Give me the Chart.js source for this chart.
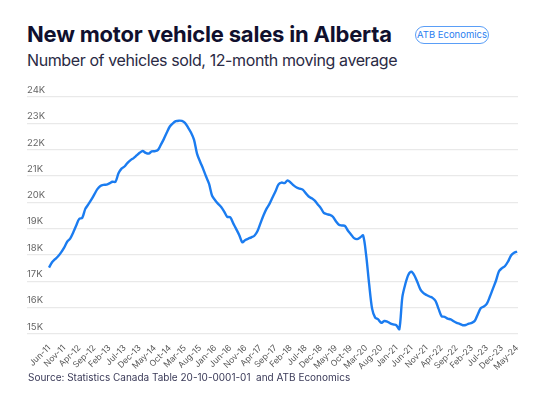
<!DOCTYPE html>
<html lang="en">
<head>
    <meta charset="UTF-8">
    <title>New motor vehicle sales in Alberta</title>
    <script src="https://cdn.jsdelivr.net/npm/chart.js"></script>
    <style>
        body {
            margin: 0;
            width: 555px;
            height: 400px;
            background: #fff;
            font-family: "Inter", "Lato", sans-serif;
            position: relative;
            overflow: hidden;
        }

        .titulo {
            position: absolute;
            left: 27px;
            top: 21px;
            font-size: 22px;
            font-weight: 700;
            color: #10102e;
            letter-spacing: -0.2px;
            white-space: nowrap;
        }

        .subtitulo {
            position: absolute;
            left: 27px;
            top: 50px;
            font-size: 16px;
            color: #2a2a44;
            letter-spacing: -0.4px;
            white-space: nowrap;
        }

        .badge {
            position: absolute;
            left: 415px;
            top: 26px;
            width: 72px;
            height: 16px;
            border: 1.5px solid #5a9ef7;
            border-radius: 10px;
            color: #2a7ef0;
            font-size: 9.5px;
            line-height: 16px;
            text-align: center;
        }

        .fuente {
            position: absolute;
            left: 28px;
            top: 371px;
            font-size: 10px;
            color: #3a3a58;
            white-space: pre;
        }

        #grafico {
            position: absolute;
            left: 0;
            top: 0;
        }
    </style>
</head>
<body>
<div class="titulo">New motor vehicle sales in Alberta</div>
<div class="subtitulo">Number of vehicles sold, 12-month moving average</div>
<div class="badge">ATB Economics</div>
<canvas id="grafico" width="555" height="400"></canvas>
<div class="fuente">Source: Statistics Canada Table 20-10-0001-01  and ATB Economics</div>

<script>
    // Etiquetas del eje x (una cada 5 meses, desde Jun-11)
    const tickLabels = [
        "Jun-11", "Nov-11", "Apr-12", "Sep-12", "Feb-13", "Jul-13", "Dec-13", "May-14",
        "Oct-14", "Mar-15", "Aug-15", "Jan-16", "Jun-16", "Nov-16", "Apr-17", "Sep-17",
        "Feb-18", "Jul-18", "Dec-18", "May-19", "Oct-19", "Mar-20", "Aug-20", "Jan-21",
        "Jun-21", "Nov-21", "Apr-22", "Sep-22", "Feb-23", "Jul-23", "Dec-23", "May-24"
    ];
    const tickStep = 5;

    // Ventas mensuales (miles de vehiculos), Jun-11 a May-24
    const ventas = [
        17.52, 17.72, 17.84, 17.95, 18.10, 18.28, 18.50, 18.62, 18.85, 19.12,
        19.37, 19.41, 19.75, 19.92, 20.10, 20.30, 20.50, 20.62, 20.66, 20.67,
        20.72, 20.78, 20.78, 21.10, 21.28, 21.36, 21.50, 21.60, 21.68, 21.78,
        21.88, 21.95, 21.88, 21.85, 21.93, 21.94, 21.98, 22.18, 22.40, 22.65,
        22.88, 23.00, 23.08, 23.10, 23.09, 23.02, 22.85, 22.65, 22.38, 21.85,
        21.55, 21.28, 20.98, 20.70, 20.25, 20.08, 19.94, 19.82, 19.65, 19.45,
        19.43, 19.20, 18.98, 18.75, 18.48, 18.57, 18.62, 18.67, 18.73, 18.90,
        19.20, 19.50, 19.75, 19.94, 20.18, 20.42, 20.68, 20.75, 20.73, 20.83,
        20.75, 20.64, 20.56, 20.52, 20.48, 20.35, 20.22, 20.15, 20.06, 19.92,
        19.78, 19.60, 19.55, 19.52, 19.45, 19.28, 19.15, 19.12, 19.10, 18.92,
        18.78, 18.64, 18.60, 18.66, 18.74, 18.00, 16.90, 15.95, 15.62, 15.55,
        15.42, 15.49, 15.47, 15.40, 15.36, 15.33, 15.18, 16.40, 16.90, 17.25,
        17.36, 17.22, 16.96, 16.68, 16.55, 16.48, 16.42, 16.37, 16.25, 15.95,
        15.67, 15.65, 15.58, 15.55, 15.48, 15.42, 15.38, 15.33, 15.34, 15.39,
        15.42, 15.50, 15.75, 15.98, 16.04, 16.15, 16.42, 16.72, 17.02, 17.38,
        17.50, 17.58, 17.75, 17.98, 18.08, 18.13
    ];

    const yMin = 15;
    const yMax = 24;

    const puntos = ventas.map((v, i) => ({ x: i, y: v }));

    const ctx = document.getElementById('grafico').getContext('2d');
    new Chart(ctx, {
        type: 'line',
        data: {
            datasets: [{
                data: puntos,
                borderColor: '#1b7cf0',
                borderWidth: 2.4,
                pointRadius: 0,
                tension: 0.3,
                fill: false
            }]
        },
        options: {
            responsive: false,
            animation: false,
            layout: {
                padding: { left: 27, right: 37, top: 97, bottom: 27 }
            },
            plugins: {
                legend: { display: false },
                tooltip: { enabled: false }
            },
            scales: {
                x: {
                    type: 'linear',
                    min: -7.3,
                    max: 155.3,
                    grid: { display: false },
                    border: { display: false },
                    afterBuildTicks: axis => {
                        axis.ticks = tickLabels.map((_, k) => ({ value: k * tickStep }));
                    },
                    ticks: {
                        autoSkip: false,
                        minRotation: 45,
                        maxRotation: 45,
                        padding: 1,
                        color: '#555',
                        font: { family: 'Inter', size: 8.5 },
                        callback: v => tickLabels[v / tickStep]
                    }
                },
                y: {
                    min: yMin,
                    max: yMax,
                    border: { display: false },
                    grid: { color: '#e9e9e9', lineWidth: 1.2, drawTicks: false },
                    ticks: {
                        stepSize: 1,
                        mirror: true,
                        padding: 0,
                        labelOffset: -7,
                        color: '#666',
                        font: { family: 'Inter', size: 9.5 },
                        callback: v => v + 'K'
                    }
                }
            }
        }
    });
</script>
</body>
</html>
